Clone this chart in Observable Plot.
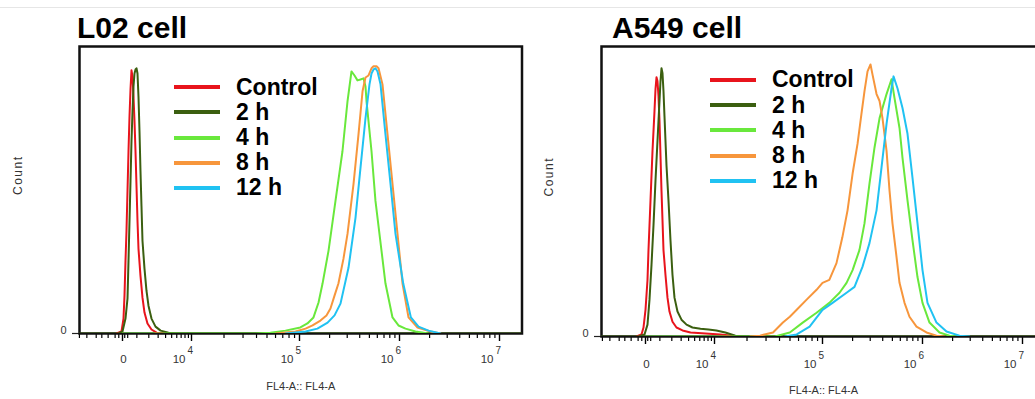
<!DOCTYPE html>
<html><head><meta charset="utf-8">
<script src="https://cdn.jsdelivr.net/npm/d3@7"></script>
<script src="https://cdn.jsdelivr.net/npm/@observablehq/plot@0.6"></script>
<style>
html,body{margin:0;padding:0;background:#fff;}
#root{position:relative;width:1035px;height:399px;overflow:hidden;font-family:"Liberation Sans",Arial,sans-serif;}
.topline{position:absolute;left:0;top:7px;width:1035px;height:1px;background:#e6e6e6;}
.title{position:absolute;top:13px;font-size:30px;font-weight:bold;line-height:30px;color:#000;white-space:nowrap;}
.panel{position:absolute;top:42px;}
.panel svg{max-width:none !important;display:block;}
.legend{position:absolute;font-size:23px;font-weight:bold;color:#000;}
.legend .row{display:flex;align-items:center;height:25.2px;line-height:25.2px;white-space:nowrap;}
.legend .sw{width:46px;height:4px;margin-right:16px;}
</style></head><body><div id="root"></div><script>
// ---- series meta ----
const seriesNames = ["Control", "2 h", "4 h", "8 h", "12 h"];
const seriesColors = ["#e8141c", "#3b5f10", "#69e83c", "#f7963c", "#20c2f2"];
const panelTitles = ["L02 cell", "A549 cell"];
const xLabel = "FL4-A:: FL4-A";
const yLabel = "Count";

// ---- axis ticks (FL4-A intensity) ----
const majorTicks = [0, 1e4, 1e5, 1e6, 1e7];
const majorBase = ["0", "10", "10", "10", "10"];
const majorExp = ["", "4", "5", "6", "7"];
const minorTicks = [-4000, -3000, -2000, -1500, -1000, -500, -250, 150, 350,
  1000, 2000, 3000, 4000, 5000, 6000, 7000, 8000, 9000,
  2e4, 3e4, 4e4, 5e4, 6e4, 7e4, 8e4, 9e4,
  2e5, 3e5, 4e5, 5e5, 6e5, 7e5, 8e5, 9e5,
  2e6, 3e6, 4e6, 5e6, 6e6, 7e6, 8e6, 9e6];
const yTicks = [0];

// ---- L02 cell: [FL4-A intensity, count (% of axis max)] ----
const l02Control = [[-405,0],[-67,0.7],[67,5.2],[134,13.2],[201,25.3],[269,35.8],[337,49.7],[405,63.5],[474,75.7],[543,85.1],[612,91.7],[683,89.6],[754,82.6],[826,74.0],[899,63.5],[973,51.4],[1048,39.2],[1124,29.5],[1280,20.1],[1442,12.5],[1611,7.3],[1877,3.5],[2263,1.4],[2809,0.3],[3990,0]];
const l02H2 = [[-4500,0],[-269,0],[0,0.7],[201,5.2],[337,12.2],[405,25.3],[474,39.2],[543,53.1],[612,67.0],[683,77.4],[754,86.1],[826,90.6],[899,92.0],[973,92.4],[1048,90.6],[1124,82.6],[1202,70.5],[1280,56.6],[1360,44.4],[1442,32.3],[1611,22.6],[1786,14.9],[1970,9.7],[2263,5.2],[2693,2.4],[3308,1.0],[4458,0.3],[5740,0],[4e7,0]];
const l02H4 = [[0,0],[39200,0],[53800,0.3],[74100,1.0],[102000,2.1],[120000,3.5],[138000,5.6],[155000,10.8],[170000,17.4],[195000,28.8],[229000,46.2],[269000,63.5],[302000,80.9],[331000,91.3],[355000,89.9],[380000,88.2],[407000,88.5],[437000,88.9],[457000,86.1],[468000,80.9],[525000,63.5],[575000,46.2],[661000,28.8],[724000,17.4],[851000,5.6],[977000,2.8],[1148000,1.7],[1445000,0.7],[1950000,0]];
const l02H8 = [[60000,0],[91800,0.7],[115000,1.7],[135000,2.8],[162000,4.5],[186000,6.3],[204000,8.7],[224000,13.2],[245000,17.4],[275000,26.0],[302000,34.7],[347000,52.1],[389000,69.4],[427000,84.4],[457000,89.2],[490000,89.9],[525000,92.4],[550000,93.1],[589000,93.1],[617000,92.4],[676000,86.8],[759000,69.4],[851000,52.1],[955000,34.7],[1072000,17.4],[1230000,5.6],[1514000,2.1],[2042000,0.7],[2570000,0]];
const l02H12 = [[74100,0],[115000,0.7],[151000,1.7],[191000,3.8],[224000,6.3],[257000,10.4],[309000,22.9],[363000,40.3],[407000,57.6],[457000,75.0],[501000,86.8],[525000,90.6],[550000,92.0],[575000,92.4],[603000,91.3],[646000,86.8],[724000,69.4],[813000,52.1],[912000,34.7],[1090000,17.4],[1300000,5.6],[1549000,2.4],[1950000,1.0],[2570000,0]];

// ---- A549 cell ----
const a549Control = [[-612,0],[-269,0.7],[-134,3.1],[0,9.2],[134,19.5],[201,29.8],[337,46.9],[474,64.0],[612,77.7],[683,85.3],[754,89.4],[826,88.0],[899,82.9],[973,74.3],[1048,62.3],[1124,50.3],[1202,40.1],[1280,29.8],[1442,21.2],[1611,13.4],[1786,8.6],[2067,5.1],[2473,3.1],[3170,2.1],[4300,1.4],[7330,1.0],[11300,0.7],[17300,0]];
const a549H2 = [[-4500,0],[-474,0],[-67,0.7],[134,4.1],[269,12.7],[405,24.7],[543,38.4],[683,53.8],[826,67.5],[973,81.2],[1048,88.0],[1124,92.5],[1202,90.8],[1280,84.6],[1360,76.0],[1442,67.5],[1527,58.9],[1698,46.9],[1877,33.2],[2067,21.2],[2263,13.4],[2580,8.6],[3040,5.8],[3700,4.1],[4620,3.1],[6160,2.7],[8130,2.4],[10400,2.1],[12600,1.4],[15600,0.3],[19200,0],[4e7,0]];
const a549H4 = [[0,0],[36300,0],[49800,1.4],[65600,4.8],[88100,8.2],[117000,11.6],[148000,15.1],[174000,18.5],[200000,22.9],[234000,29.8],[263000,39.0],[295000,52.7],[331000,65.1],[372000,75.3],[437000,83.6],[490000,88.7],[525000,82.2],[589000,71.9],[631000,61.6],[708000,46.9],[794000,33.2],[891000,20.5],[1000000,11.6],[1175000,4.8],[1479000,1.4],[1862000,0.3],[2239000,0]];
const a549H8 = [[21400,0],[26400,0.3],[34800,1.4],[43000,4.8],[49800,6.8],[57700,9.2],[71300,12.7],[88100,16.1],[100000,18.5],[117000,19.5],[138000,25.3],[158000,34.2],[178000,43.5],[200000,56.2],[224000,66.4],[245000,76.7],[263000,84.6],[282000,91.4],[302000,93.8],[316000,90.4],[347000,83.6],[372000,81.2],[398000,75.3],[437000,64.0],[468000,50.3],[501000,39.0],[550000,27.4],[589000,18.5],[661000,11.6],[741000,6.8],[871000,3.4],[1096000,1.4],[1380000,0.3],[1660000,0]];
const a549H12 = [[44800,0],[57700,0.7],[76000,3.4],[100000,9.2],[126000,11.6],[174000,15.1],[209000,17.1],[251000,24.0],[295000,32.2],[347000,43.5],[389000,58.2],[437000,73.3],[490000,85.6],[513000,89.7],[562000,85.6],[631000,78.8],[708000,69.9],[794000,54.8],[891000,39.0],[1000000,22.9],[1122000,11.6],[1380000,4.8],[1738000,1.7],[2344000,0.3],[2951000,0]];

// biexponential-like display transform (FlowJo style axis)
function T(v) {
  if (v < 1e4) return 29.84 * Math.asinh(v / 2000);
  if (v < 1e5) return 69 + 108 * (Math.log10(v) - 4);
  return 177 + 100 * (Math.log10(v) - 5);
}

const root = document.getElementById("root");
const tl = document.createElement("div"); tl.className = "topline"; root.appendChild(tl);

function panel(sets, o) {
  const H = 357, MT = 4;
  const rows = [];
  sets.forEach((pts, i) => pts.forEach(([v, c]) => rows.push({x: T(v), y: c, s: seriesNames[i]})));
  const powers = majorTicks.slice(1).map((v, i) => ({v, base: majorBase[i + 1], exp: majorExp[i + 1]}));
  const svg = Plot.plot({
    width: o.width, height: H,
    marginLeft: o.ml, marginRight: o.mr, marginTop: MT, marginBottom: o.mb,
    x: {domain: o.domain, axis: null},
    y: {domain: [0, 100], axis: null},
    color: {domain: seriesNames, range: seriesColors},
    style: {fontFamily: "Liberation Sans, Arial, sans-serif", color: "#333", background: "transparent", overflow: "visible"},
    marks: [
      Plot.axisX(minorTicks.map(T), {tickSize: 5, tickFormat: () => "", label: null, stroke: "#000", strokeWidth: 1.2}),
      Plot.axisX(majorTicks.map(T), {tickSize: 8, tickFormat: () => "", label: null, stroke: "#000", strokeWidth: 1.4}),
      Plot.axisY(yTicks, {tickSize: 7, tickFormat: () => "", label: null, stroke: "#222", strokeWidth: 1.2}),
      Plot.frame({stroke: "#111", strokeWidth: 2.5}),
      Plot.line(rows, {x: "x", y: "y", z: "s", stroke: "s", strokeWidth: 2, strokeLinejoin: "round", clip: true}),
      Plot.text([majorTicks[0]], {x: d => T(d), frameAnchor: "bottom", dy: o.tdy, dx: 1, text: () => majorBase[0], fontSize: 11.5, fill: "#333"}),
      Plot.text(powers, {x: d => T(d.v), frameAnchor: "bottom", dy: o.tdy, dx: -6, textAnchor: "end", text: "base", fontSize: 11.5, fill: "#333"}),
      Plot.text(powers, {x: d => T(d.v), frameAnchor: "bottom", dy: o.tdy - 9, dx: -4, textAnchor: "start", text: "exp", fontSize: 10, fill: "#333"}),
      Plot.text(yTicks, {y: d => d, frameAnchor: "left", dx: -13, dy: -3.5, textAnchor: "end", text: d => String(d), fontSize: 11, fill: "#333"}),
      Plot.text([yLabel], {frameAnchor: "left", dx: o.countDx, dy: 5, rotate: -90, text: d => d, fontSize: 12, fill: "#333"}),
      Plot.text([xLabel], {frameAnchor: "bottom", dy: o.ldy, text: d => d, fontSize: 11, fill: "#333"})
    ]
  });
  d3.select(svg).selectAll("text").filter(function() { return this.textContent === yLabel; }).attr("letter-spacing", "1.5px");
  svg.style.maxWidth = "none";
  const wrap = document.createElement("div");
  wrap.className = "panel";
  wrap.style.left = o.left + "px";
  wrap.style.width = o.width + "px";
  wrap.appendChild(svg);
  root.appendChild(wrap);

  const t = document.createElement("div");
  t.className = "title"; t.style.left = o.titleX + "px"; t.textContent = o.title;
  root.appendChild(t);

  const lg = document.createElement("div");
  lg.className = "legend"; lg.style.left = o.legX + "px"; lg.style.top = o.legY + "px";
  seriesNames.forEach((n, i) => {
    const r = document.createElement("div"); r.className = "row";
    const sw = document.createElement("div"); sw.className = "sw"; sw.style.background = seriesColors[i];
    const tx = document.createElement("span"); tx.textContent = n;
    r.appendChild(sw); r.appendChild(tx); lg.appendChild(r);
  });
  root.appendChild(lg);
}

panel([l02Control, l02H2, l02H4, l02H8, l02H12], {
  left: 0, width: 525, ml: 79, mr: 3.5, mb: 66, domain: [-43, 399.5],
  countDx: -61, tdy: 29, ldy: 56, title: panelTitles[0], titleX: 77, legX: 174, legY: 74.7
});
panel([a549Control, a549H2, a549H4, a549H8, a549H12], {
  left: 520, width: 530, ml: 81, mr: 5, mb: 63, domain: [-44, 400],
  countDx: -52, tdy: 31.5, ldy: 57, title: panelTitles[1], titleX: 612, legX: 710, legY: 67.4
});
</script></body></html>
